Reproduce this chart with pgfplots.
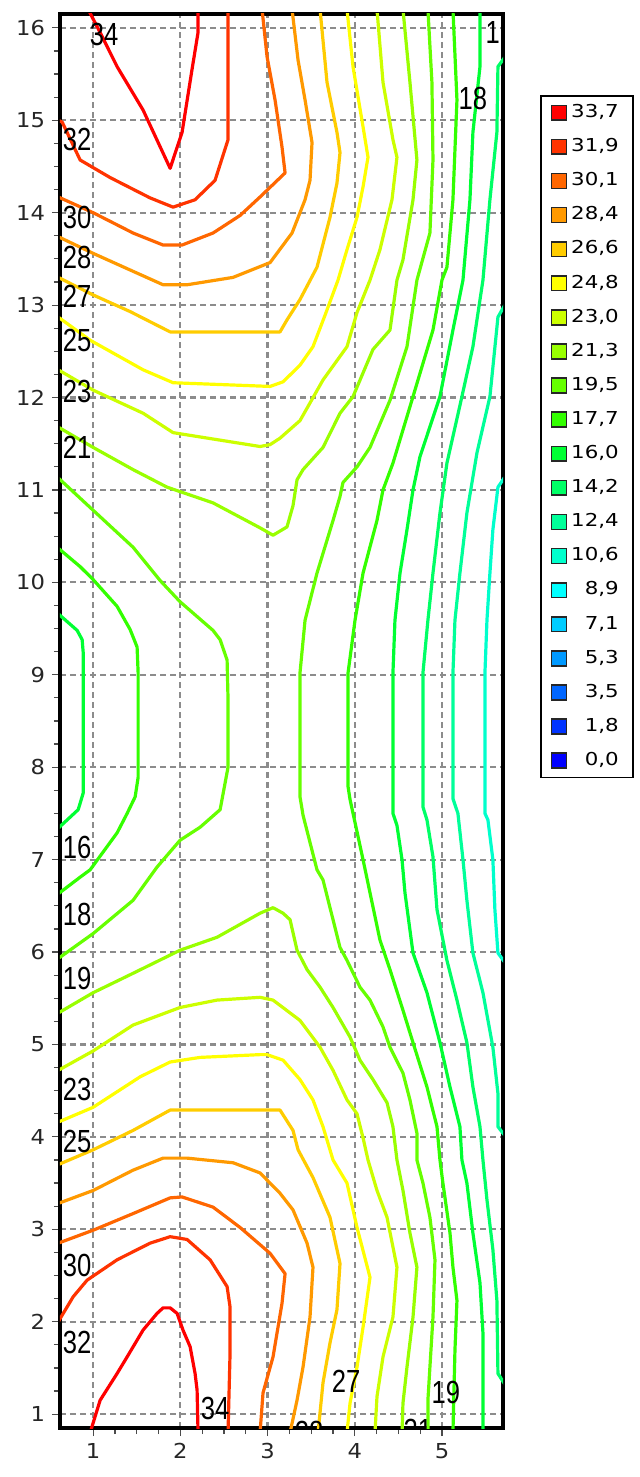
\documentclass[border=0pt]{standalone}
\usepackage{fontspec}
\setmainfont{Liberation Sans}
\newfontfamily\tickfont{DejaVu Sans}[FakeStretch=1.1]
\newfontfamily\legfont{DejaVu Sans}[FakeStretch=1.2]
\newfontfamily\labfont{Liberation Sans}[FakeStretch=0.8]
\usepackage{pgfplots}
\pgfplotsset{compat=1.18}

\definecolor{c337}{HTML}{FF0000}
\definecolor{c319}{HTML}{FF3300}
\definecolor{c301}{HTML}{FF6600}
\definecolor{c284}{HTML}{FF9900}
\definecolor{c266}{HTML}{FFCC00}
\definecolor{c248}{HTML}{FFFF00}
\definecolor{c230}{HTML}{CCFF00}
\definecolor{c213}{HTML}{99FF00}
\definecolor{c195}{HTML}{66FF00}
\definecolor{c177}{HTML}{33FF00}
\definecolor{c160}{HTML}{00FF33}
\definecolor{c142}{HTML}{00FF66}
\definecolor{c124}{HTML}{00FF99}
\definecolor{c106}{HTML}{00FFCC}
\definecolor{c89}{HTML}{00FFFF}
\definecolor{c71}{HTML}{00CCFF}
\definecolor{c53}{HTML}{0099FF}
\definecolor{c35}{HTML}{0066FF}
\definecolor{c18}{HTML}{0033FF}
\definecolor{c00}{HTML}{0000FF}

\pgfplotsset{
  cl/.style={line width=1.6pt, line join=round, forget plot, mark=none},
  lg/.style={legend image code/.code={\draw[fill=#1, draw=black!85, line width=0.8pt] (0pt,-3.7pt) rectangle (7.4pt,3.7pt);}},
}
\tikzset{lab/.style={font=\labfont\fontsize{16}{18}\selectfont, inner sep=0pt}}

\begin{document}
\begin{tikzpicture}
\useasboundingbox (-30pt,-24.5pt) rectangle (290pt,714pt);
\begin{axis}[
  scale only axis, width=221.5pt, height=707pt,
  xmin=0.62, xmax=5.70, ymin=0.85, ymax=16.15,
  xtick={1,...,5}, ytick={1,...,16},
  minor tick num=3,
  xtick pos=left, ytick pos=left,
  tick align=outside, major tick length=4pt, minor tick length=3pt,
  tick style={black!70, line width=0.6pt},
  grid=major,
  major grid style={gray!90, dash pattern=on 3pt off 2pt, line width=1.1pt},
  axis line style={line width=1.6pt},
  /pgf/number format/assume math mode=true,
  ticklabel style={font=\tickfont\fontsize{10.3}{12}\selectfont, text=black!85},
  legend style={at={(rel axis cs:1.0835,0.9427)}, anchor=north west,
    draw=black, line width=0.8pt, font=\legfont\fontsize{8.9}{10}\selectfont,
    inner xsep=5pt, inner ysep=4.25pt, row sep=8.65pt,
    nodes={text height=6.6pt, text depth=1.8pt, inner ysep=0pt}},
  legend cell align=right,
]
\addlegendimage{lg=c337}\addlegendentry{33,7}
\addlegendimage{lg=c319}\addlegendentry{31,9}
\addlegendimage{lg=c301}\addlegendentry{30,1}
\addlegendimage{lg=c284}\addlegendentry{28,4}
\addlegendimage{lg=c266}\addlegendentry{26,6}
\addlegendimage{lg=c248}\addlegendentry{24,8}
\addlegendimage{lg=c230}\addlegendentry{23,0}
\addlegendimage{lg=c213}\addlegendentry{21,3}
\addlegendimage{lg=c195}\addlegendentry{19,5}
\addlegendimage{lg=c177}\addlegendentry{17,7}
\addlegendimage{lg=c160}\addlegendentry{16,0}
\addlegendimage{lg=c142}\addlegendentry{14,2}
\addlegendimage{lg=c124}\addlegendentry{12,4}
\addlegendimage{lg=c106}\addlegendentry{10,6}
\addlegendimage{lg=c89}\addlegendentry{8,9}
\addlegendimage{lg=c71}\addlegendentry{7,1}
\addlegendimage{lg=c53}\addlegendentry{5,3}
\addlegendimage{lg=c35}\addlegendentry{3,5}
\addlegendimage{lg=c18}\addlegendentry{1,8}
\addlegendimage{lg=c00}\addlegendentry{0,0}

% 33,7
\addplot[cl, c337] coordinates {(0.943,16.2)(1.080,15.95)(1.275,15.58)(1.573,15.11)(1.883,14.48)(2.020,14.87)(2.134,15.55)(2.203,15.95)(2.203,16.2)};
\addplot[cl, c337] coordinates {(0.966,0.8)(1.080,1.15)(1.275,1.44)(1.390,1.62)(1.573,1.91)(1.733,2.09)(1.802,2.15)(1.883,2.15)(1.963,2.09)(2.030,1.91)(2.112,1.73)(2.169,1.44)(2.192,1.26)(2.203,0.8)};
% 31,9
\addplot[cl, c319] coordinates {(0.6,15.0)(0.645,14.98)(0.851,14.57)(1.195,14.38)(1.653,14.16)(1.917,14.06)(2.169,14.14)(2.398,14.35)(2.547,14.79)(2.547,15.38)(2.547,16.2)};
\addplot[cl, c319] coordinates {(0.6,2.0)(0.771,2.27)(0.931,2.45)(1.275,2.67)(1.653,2.85)(1.883,2.92)(2.077,2.89)(2.341,2.67)(2.536,2.38)(2.570,2.16)(2.570,1.66)(2.547,0.8)};
% 30,1
\addplot[cl, c301] coordinates {(0.6,14.17)(1.000,14.00)(1.458,13.78)(1.802,13.65)(2.020,13.65)(2.375,13.78)(2.685,13.97)(2.914,14.17)(3.201,14.43)(3.166,14.71)(3.086,15.22)(2.994,15.69)(2.937,16.2)};
\addplot[cl, c301] coordinates {(0.6,2.85)(1.000,2.99)(1.458,3.17)(1.883,3.34)(2.020,3.35)(2.375,3.24)(2.685,3.02)(3.029,2.74)(3.201,2.52)(3.166,2.20)(3.063,1.62)(2.948,1.23)(2.914,0.8)};
% 28,4
\addplot[cl, c284] coordinates {(0.6,13.74)(1.000,13.56)(1.424,13.38)(1.802,13.22)(2.077,13.22)(2.605,13.30)(3.029,13.46)(3.281,13.78)(3.430,14.14)(3.487,14.35)(3.510,14.76)(3.430,15.22)(3.350,15.65)(3.281,16.2)};
\addplot[cl, c284] coordinates {(0.6,3.28)(1.000,3.42)(1.458,3.64)(1.802,3.77)(2.077,3.77)(2.605,3.72)(2.914,3.61)(3.143,3.39)(3.292,3.21)(3.453,2.85)(3.521,2.59)(3.487,2.05)(3.407,1.51)(3.338,1.15)(3.258,0.8)};
% 26,6
\addplot[cl, c266] coordinates {(0.6,13.30)(1.000,13.11)(1.424,12.93)(1.883,12.71)(3.143,12.71)(3.223,12.84)(3.372,13.06)(3.567,13.41)(3.716,13.95)(3.796,14.32)(3.831,14.65)(3.796,14.87)(3.682,15.41)(3.602,16.2)};
\addplot[cl, c266] coordinates {(0.6,3.70)(1.000,3.86)(1.458,4.07)(1.883,4.29)(3.143,4.29)(3.292,4.07)(3.350,3.86)(3.521,3.56)(3.716,3.13)(3.831,2.63)(3.796,2.13)(3.716,1.77)(3.636,1.34)(3.579,0.8)};
% 24,8
\addplot[cl, c248] coordinates {(0.6,12.87)(0.966,12.62)(1.573,12.30)(1.917,12.16)(3.029,12.12)(3.178,12.17)(3.372,12.35)(3.521,12.55)(3.659,12.89)(3.808,13.27)(3.911,13.60)(4.026,13.95)(4.095,14.28)(4.152,14.60)(4.095,14.93)(3.980,15.58)(3.911,16.2)};
\addplot[cl, c248] coordinates {(0.6,4.16)(1.000,4.32)(1.539,4.65)(1.883,4.81)(2.226,4.86)(2.914,4.89)(2.994,4.89)(3.178,4.83)(3.372,4.62)(3.521,4.40)(3.636,4.11)(3.751,3.75)(3.911,3.50)(4.026,3.02)(4.175,2.48)(4.095,1.94)(4.026,1.51)(3.946,1.12)(3.911,0.8)};
% 23,0
\addplot[cl, c230] coordinates {(0.6,12.30)(1.000,12.08)(1.573,11.83)(1.917,11.62)(2.914,11.47)(3.029,11.49)(3.143,11.56)(3.372,11.75)(3.636,12.19)(3.911,12.55)(4.026,12.92)(4.175,13.27)(4.289,13.60)(4.427,14.14)(4.484,14.60)(4.438,14.79)(4.324,15.41)(4.255,16.2)};
\addplot[cl, c230] coordinates {(0.6,4.72)(1.000,4.93)(1.458,5.21)(1.997,5.40)(2.421,5.48)(2.914,5.51)(3.063,5.48)(3.372,5.26)(3.602,4.97)(3.751,4.72)(3.911,4.40)(4.026,4.25)(4.095,3.99)(4.152,3.75)(4.255,3.42)(4.370,3.13)(4.484,2.59)(4.438,2.05)(4.324,1.62)(4.255,1.19)(4.232,0.8)};
% 21,3
\addplot[cl, c213] coordinates {(0.6,11.68)(1.000,11.46)(1.458,11.22)(1.848,11.03)(2.375,10.86)(2.914,10.59)(3.063,10.51)(3.223,10.60)(3.292,10.83)(3.338,11.11)(3.407,11.22)(3.636,11.46)(3.831,11.83)(3.980,12.01)(4.209,12.52)(4.404,12.73)(4.484,13.27)(4.553,13.49)(4.668,14.14)(4.713,14.57)(4.633,15.41)(4.553,16.2)};
\addplot[cl, c213] coordinates {(0.6,5.34)(1.000,5.56)(1.458,5.77)(1.997,6.02)(2.421,6.16)(2.914,6.42)(3.063,6.48)(3.178,6.42)(3.258,6.35)(3.338,6.02)(3.453,5.81)(3.602,5.62)(3.751,5.40)(3.946,5.08)(4.060,4.83)(4.209,4.62)(4.370,4.37)(4.438,4.11)(4.484,3.75)(4.553,3.42)(4.633,2.96)(4.713,2.59)(4.668,2.05)(4.599,1.51)(4.553,1.12)(4.542,0.8)};
% 19,5
\addplot[cl, c195] coordinates {(0.6,11.13)(0.966,10.81)(1.458,10.38)(1.768,10.02)(1.997,9.79)(2.375,9.48)(2.456,9.38)(2.536,9.16)(2.547,8.73)(2.547,8.00)(2.456,7.54)(2.226,7.35)(1.997,7.21)(1.733,6.92)(1.458,6.56)(1.000,6.20)(0.6,5.93)};
\addplot[cl, c195] coordinates {(4.839,16.2)(4.885,15.41)(4.897,14.57)(4.862,13.78)(4.713,13.27)(4.599,12.55)(4.404,11.97)(4.175,11.46)(4.026,11.25)(3.865,11.08)(3.831,10.93)(3.751,10.67)(3.567,10.10)(3.430,9.59)(3.372,9.02)(3.372,7.68)(3.407,7.48)(3.567,6.89)(3.636,6.78)(3.831,6.05)(3.911,5.91)(4.060,5.62)(4.175,5.48)(4.324,5.19)(4.404,4.97)(4.553,4.69)(4.633,4.40)(4.713,4.04)(4.713,3.75)(4.782,3.50)(4.862,3.13)(4.920,2.67)(4.897,2.05)(4.862,1.51)(4.839,1.15)(4.839,0.8)};
% 17,7
\addplot[cl, c177] coordinates {(0.6,10.37)(0.851,10.17)(1.000,10.03)(1.275,9.74)(1.424,9.49)(1.504,9.30)(1.516,9.02)(1.516,7.89)(1.482,7.68)(1.390,7.50)(1.275,7.29)(0.966,6.89)(0.851,6.81)(0.6,6.63)};
\addplot[cl, c177] coordinates {(5.126,16.2)(5.172,15.22)(5.126,14.14)(5.057,13.41)(5.000,13.27)(4.897,12.73)(4.668,12.01)(4.438,11.29)(4.324,11.00)(4.255,10.67)(4.095,10.10)(4.003,9.59)(3.923,9.02)(3.923,7.79)(3.946,7.65)(4.095,7.00)(4.175,6.64)(4.289,6.13)(4.404,5.81)(4.553,5.37)(4.668,5.02)(4.828,4.54)(4.943,4.11)(4.977,3.75)(5.011,3.50)(5.092,2.96)(5.126,2.59)(5.172,2.23)(5.149,1.69)(5.126,0.8)};
% 16,0
\addplot[cl, c160] coordinates {(0.6,9.66)(0.817,9.48)(0.874,9.38)(0.886,9.24)(0.886,7.72)(0.851,7.61)(0.828,7.54)(0.6,7.34)};
\addplot[cl, c160] coordinates {(5.436,16.2)(5.436,15.58)(5.355,14.87)(5.321,14.14)(5.241,13.27)(5.126,12.73)(4.977,12.01)(4.748,11.36)(4.668,11.00)(4.599,10.57)(4.519,10.10)(4.461,9.59)(4.438,9.02)(4.438,7.50)(4.484,7.37)(4.542,7.00)(4.576,6.64)(4.668,5.99)(4.828,5.56)(4.977,5.02)(5.092,4.54)(5.206,4.11)(5.229,3.75)(5.286,3.50)(5.355,2.96)(5.436,2.42)(5.470,1.88)(5.470,0.8)};
% 14,2
\addplot[cl, c142] coordinates {(5.75,15.72)(5.642,15.58)(5.630,14.87)(5.550,14.14)(5.470,13.27)(5.355,12.55)(5.229,12.01)(5.057,11.29)(4.977,10.75)(4.897,10.10)(4.839,9.59)(4.782,9.02)(4.782,7.57)(4.828,7.43)(4.897,7.03)(4.943,6.46)(5.057,5.91)(5.172,5.48)(5.286,5.02)(5.355,4.54)(5.436,4.11)(5.470,3.75)(5.516,3.32)(5.584,2.78)(5.630,2.23)(5.642,1.44)(5.75,1.28)};
% 12,4
\addplot[cl, c124] coordinates {(5.75,13.05)(5.642,12.87)(5.550,12.01)(5.401,11.40)(5.286,10.75)(5.206,10.10)(5.149,9.59)(5.126,9.02)(5.126,7.66)(5.183,7.50)(5.241,7.00)(5.286,6.56)(5.355,5.99)(5.470,5.56)(5.584,4.97)(5.642,4.47)(5.642,4.11)(5.75,3.98)};
% 10,6
\addplot[cl, c106] coordinates {(5.75,11.18)(5.642,11.03)(5.584,10.57)(5.550,10.10)(5.516,9.59)(5.493,9.02)(5.493,7.50)(5.527,7.43)(5.584,7.00)(5.607,6.46)(5.642,5.99)(5.75,5.85)};

% contour labels
\node[lab] at (axis cs:1.126,15.93) {34};
\node[lab] at (axis cs:0.817,14.79) {32};
\node[lab] at (axis cs:0.817,13.95) {30};
\node[lab] at (axis cs:0.817,13.52) {28};
\node[lab] at (axis cs:0.817,13.09) {27};
\node[lab] at (axis cs:0.817,12.62) {25};
\node[lab] at (axis cs:0.817,12.06) {23};
\node[lab] at (axis cs:0.817,11.46) {21};
\node[lab] at (axis cs:0.817,7.13) {16};
\node[lab] at (axis cs:0.817,6.41) {18};
\node[lab] at (axis cs:0.817,5.71) {19};
\node[lab] at (axis cs:0.817,4.51) {23};
\node[lab] at (axis cs:0.817,3.95) {25};
\node[lab] at (axis cs:0.817,2.61) {30};
\node[lab] at (axis cs:0.817,1.77) {32};
\node[lab] at (axis cs:2.398,1.06) {34};
\node[lab] at (axis cs:3.900,1.36) {27};
\node[lab] at (axis cs:3.476,0.80) {28};
\node[lab] at (axis cs:4.725,0.82) {21};
\node[lab] at (axis cs:5.046,1.23) {19};
\node[lab] at (axis cs:5.355,15.24) {18};
\node[lab] at (axis cs:5.665,15.95) {16};
\end{axis}
\end{tikzpicture}
\end{document}
